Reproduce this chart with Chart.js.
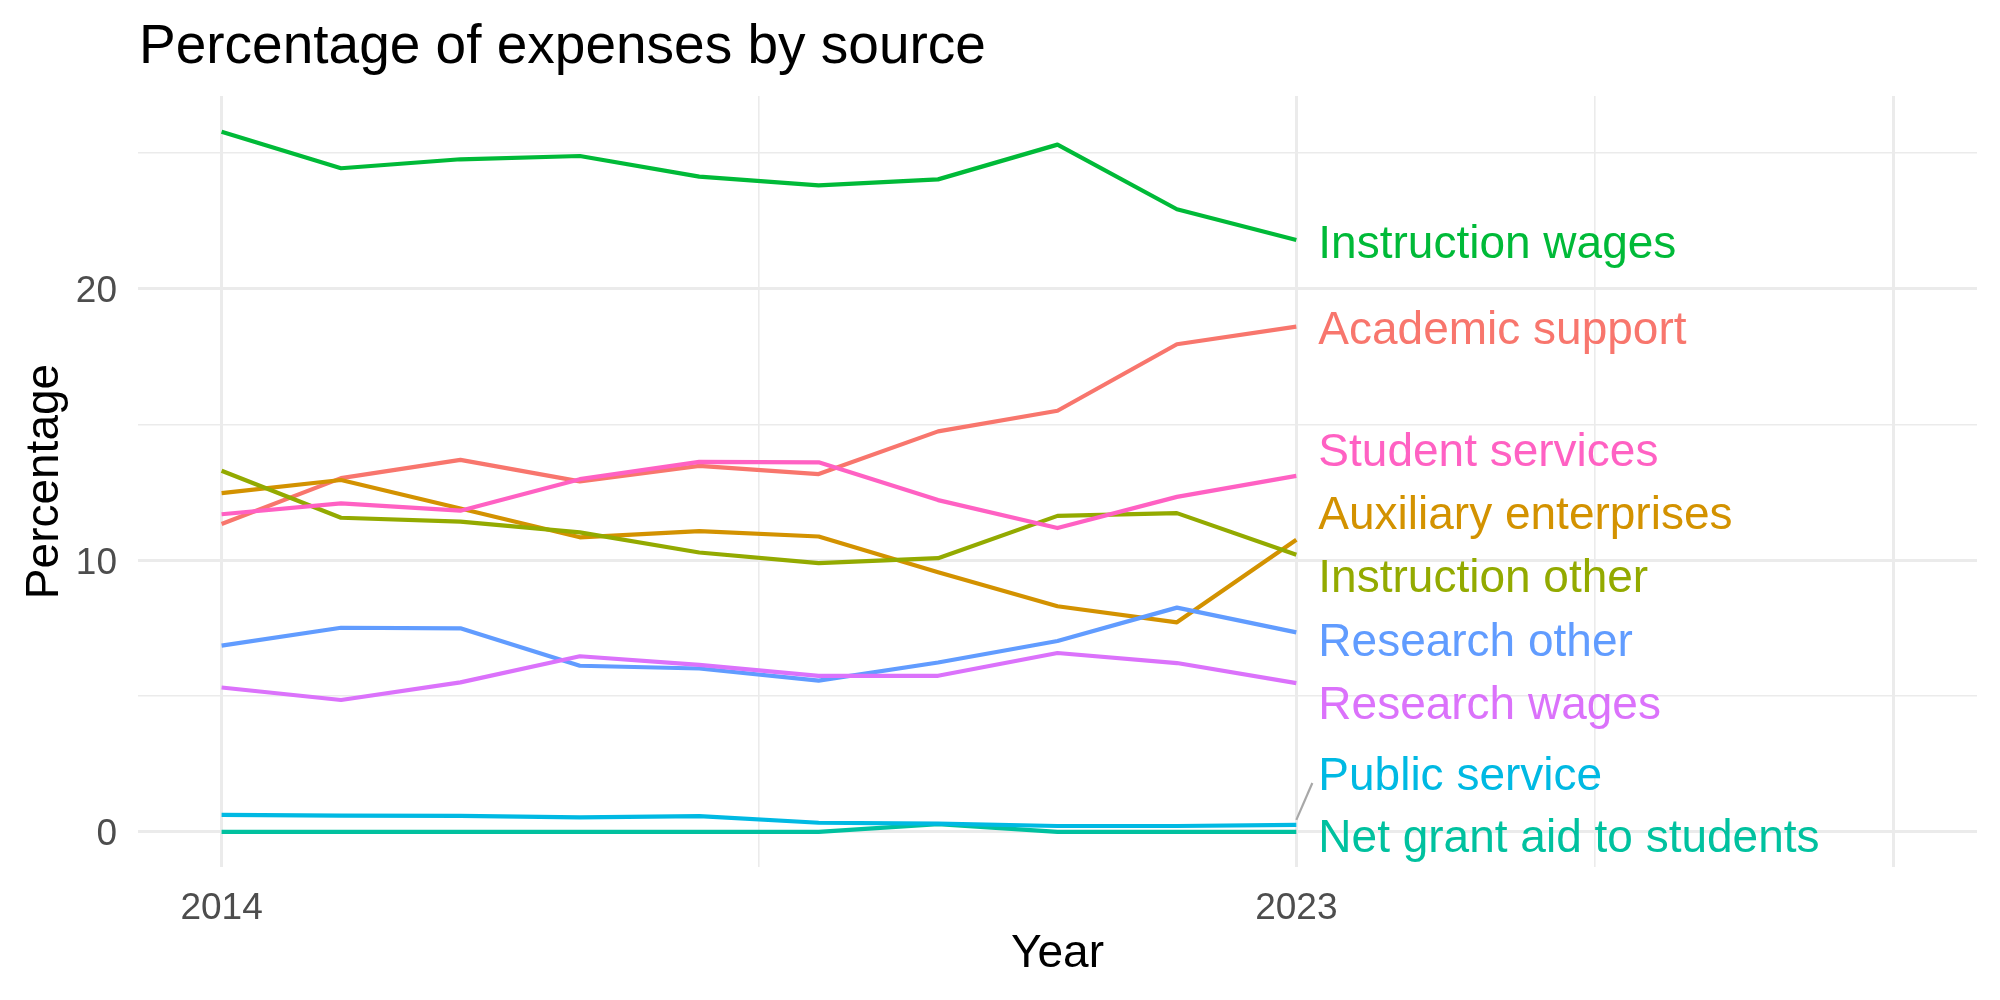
<!DOCTYPE html>
<html>
<head>
<meta charset="utf-8">
<style>
  html, body { margin: 0; padding: 0; background: #ffffff; }
  #wrap { width: 2000px; height: 1000px; }
</style>
<script src="https://cdn.jsdelivr.net/npm/chart.js@4.4.1/dist/chart.umd.min.js"></script>
</head>
<body>
<div id="wrap"><canvas id="c" width="2000" height="1000"></canvas></div>
<script>
// ---- Data ----
const years = [2014, 2015, 2016, 2017, 2018, 2019, 2020, 2021, 2022, 2023];
const seriesNames = [
  "Academic support", "Auxiliary enterprises", "Instruction other", "Instruction wages",
  "Net grant aid to students", "Public service", "Research other", "Research wages", "Student services"
];
const academicSupport      = [11.34, 13.03, 13.70, 12.91, 13.48, 13.18, 14.75, 15.51, 17.96, 18.61];
const auxiliaryEnterprises = [12.48, 12.96, 11.91, 10.85, 11.08, 10.88, 9.56, 8.31, 7.72, 10.76];
const instructionOther     = [13.30, 11.57, 11.43, 11.03, 10.29, 9.90, 10.08, 11.64, 11.74, 10.21];
const instructionWages     = [25.78, 24.44, 24.77, 24.89, 24.13, 23.81, 24.03, 25.31, 22.93, 21.80];
const netGrantAid          = [0, 0, 0, 0, 0, 0, 0.29, 0, 0, 0];
const publicService        = [0.63, 0.60, 0.59, 0.54, 0.58, 0.34, 0.31, 0.22, 0.22, 0.26];
const researchOther        = [6.86, 7.52, 7.50, 6.12, 6.02, 5.57, 6.24, 7.03, 8.26, 7.35];
const researchWages        = [5.32, 4.86, 5.51, 6.47, 6.15, 5.75, 5.75, 6.59, 6.22, 5.48];
const studentServices      = [11.70, 12.10, 11.83, 12.99, 13.63, 13.61, 12.22, 11.19, 12.34, 13.11];
const seriesValues = [academicSupport, auxiliaryEnterprises, instructionOther, instructionWages,
  netGrantAid, publicService, researchOther, researchWages, studentServices];
// repelled label positions (y, in percentage units)
const labelY = [18.58, 11.75, 9.43, 21.73, -0.14, 2.17, 7.10, 4.78, 14.08];
const xTickValues = [2014, 2018.5, 2023, 2025.5, 2028];
const xTickLabels = ["2014", "", "2023", "", ""];
const yTickValues = [0, 5, 10, 15, 20, 25];
const yTickLabels = ["0", "", "10", "", "20", ""];

const colors = ["#F8766D", "#D39200", "#93AA00", "#00BA38", "#00C19F", "#00B9E3", "#619CFF", "#DB72FB", "#FF61C3"];
const FONT = "'Liberation Sans', Arial, Helvetica, sans-serif";

const datasets = seriesNames.map((name, i) => ({
  label: name,
  data: years.map((yr, j) => ({ x: yr, y: seriesValues[i][j] })),
  borderColor: colors[i],
  backgroundColor: colors[i],
  borderWidth: 4.2,
  pointRadius: 0,
  pointHoverRadius: 0,
  tension: 0,
  fill: false,
  borderJoinStyle: 'round',
  borderCapStyle: 'butt',
  order: seriesNames.length - i
}));

const overlay = {
  id: 'overlay',
  afterDraw(chart) {
    const ctx = chart.ctx;
    const xs = chart.scales.x, ys = chart.scales.y;
    ctx.save();
    // title
    ctx.fillStyle = '#000000';
    ctx.font = `55px ${FONT}`;
    ctx.textBaseline = 'alphabetic';
    ctx.textAlign = 'left';
    ctx.fillText("Percentage of expenses by source", 139, 63);
    // end labels
    const lastYear = years[years.length - 1];
    const x0 = xs.getPixelForValue(lastYear);
    ctx.font = `46px ${FONT}`;
    seriesNames.forEach((name, i) => {
      const ly = ys.getPixelForValue(labelY[i]);
      const py = ys.getPixelForValue(seriesValues[i][years.length - 1]);
      if (Math.abs(ly - py) > 40) {
        ctx.strokeStyle = '#A8A8A8';
        ctx.lineWidth = 2.2;
        ctx.beginPath();
        ctx.moveTo(x0, py - 5);
        ctx.lineTo(x0 + 16, ly + 10);
        ctx.stroke();
      }
      ctx.fillStyle = colors[i];
      ctx.fillText(name, x0 + 22, ly + 16.6);
    });
    ctx.restore();
  }
};

new Chart(document.getElementById('c'), {
  type: 'line',
  data: { datasets },
  options: {
    responsive: false,
    animation: false,
    events: [],
    layout: { padding: { top: 96, right: 23, bottom: 0, left: 0 } },
    plugins: { legend: { display: false }, tooltip: { enabled: false }, title: { display: false } },
    scales: {
      x: {
        type: 'linear',
        min: 2013.3,
        max: 2028.7,
        afterBuildTicks: s => { s.ticks = xTickValues.map(v => ({ value: v })); },
        afterFit: s => { s.height = 133; },
        grid: {
          color: '#EBEBEB',
          lineWidth: c => (c.tick && xTickValues.indexOf(c.tick.value) % 2 === 0) ? 3 : 1.6,
          drawTicks: false
        },
        border: { display: false },
        ticks: {
          autoSkip: false, maxRotation: 0, padding: 20, color: '#4D4D4D',
          font: { family: FONT, size: 37 },
          callback: v => { const k = xTickValues.indexOf(v); return k >= 0 ? xTickLabels[k] : ''; }
        },
        title: { display: true, text: 'Year', color: '#000000', font: { family: FONT, size: 46 }, padding: { top: 0, bottom: 18 } }
      },
      y: {
        type: 'linear',
        min: -1.29,
        max: 27.1,
        afterBuildTicks: s => { s.ticks = yTickValues.map(v => ({ value: v })); },
        afterFit: s => { s.width = 138; },
        grid: {
          color: '#EBEBEB',
          lineWidth: c => (c.tick && c.tick.value % 10 === 0) ? 3 : 1.6,
          drawTicks: false
        },
        border: { display: false },
        ticks: {
          autoSkip: false, padding: 21, labelOffset: 3, color: '#4D4D4D',
          font: { family: FONT, size: 37 },
          callback: v => { const k = yTickValues.indexOf(v); return k >= 0 ? yTickLabels[k] : ''; }
        },
        title: { display: true, text: 'Percentage', color: '#000000', font: { family: FONT, size: 46 }, padding: { top: 18, bottom: 0 } }
      }
    }
  },
  plugins: [overlay]
});
</script>
</body>
</html>
